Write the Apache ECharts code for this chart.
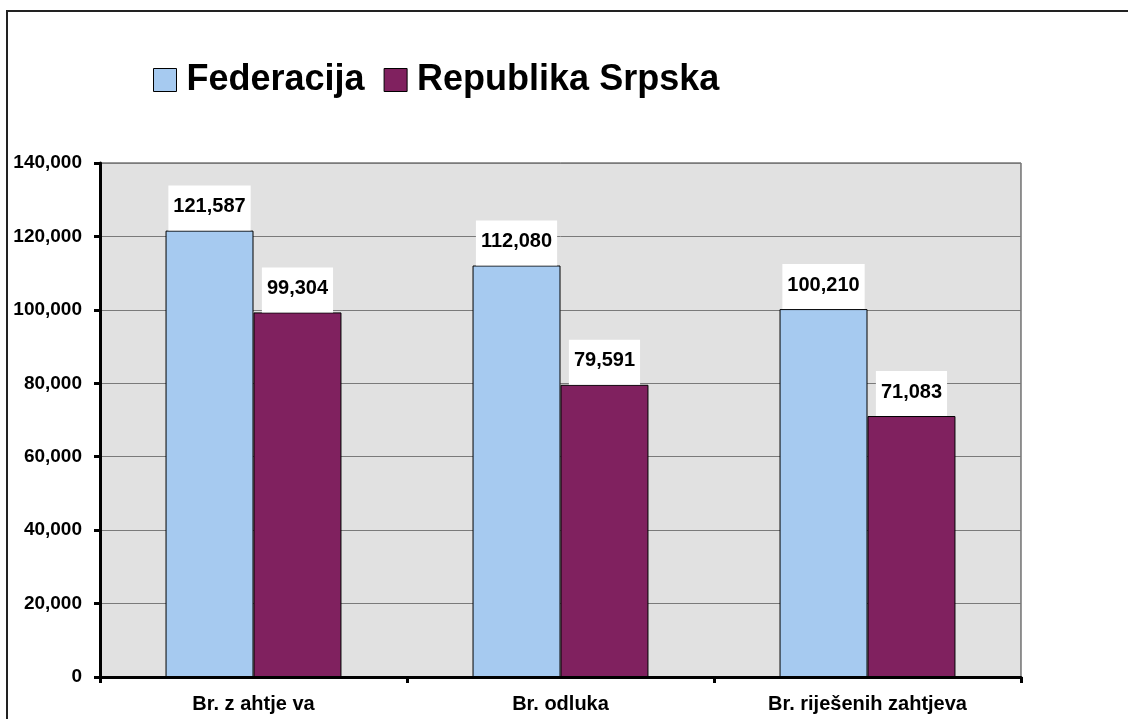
<!DOCTYPE html>
<html>
<head>
<meta charset="utf-8">
<script src="https://cdn.jsdelivr.net/npm/echarts@6/dist/echarts.min.js"></script>
<style>
html,body{margin:0;padding:0;background:#fff;}
#chart{width:1128px;height:719px;}
</style>
</head>
<body>
<div id="chart"></div>
<script>
const categories = ['Br. z ahtje va', 'Br. odluka', 'Br. riješenih zahtjeva'];
const federacija = [121587, 112080, 100210];
const republikaSrpska = [99304, 79591, 71083];
const seriesNames = ['Federacija', 'Republika Srpska'];

const chart = echarts.init(document.getElementById('chart'));
const font = 'Arial, "Liberation Sans", sans-serif';
const labelCfg = {
  show: true,
  position: 'top',
  distance: 0,
  backgroundColor: '#ffffff',
  padding: [11, 5, 14, 5],
  color: '#000',
  fontWeight: 'bold',
  fontSize: 20,
  fontFamily: font,
  formatter: p => p.value.toLocaleString('en-US')
};
chart.setOption({
  animation: false,
  backgroundColor: '#ffffff',
  graphic: [{
    type: 'rect',
    shape: {x: 7, y: 11, width: 1200, height: 800},
    style: {fill: 'none', stroke: '#222', lineWidth: 2},
    silent: true,
    z: 100
  }],
  legend: {
    left: 148,
    top: 57,
    itemWidth: 23,
    itemHeight: 23,
    itemGap: 19,
    icon: 'rect',
    textStyle: {fontSize: 36, fontWeight: 'bold', fontFamily: font, color: '#000', padding: [0, 0, 0, 5]},
    itemStyle: {borderColor: '#000', borderWidth: 1}
  },
  grid: {
    left: 100, right: 107, top: 163, bottom: 42,
    show: true, backgroundColor: '#E1E1E1', borderColor: '#333', borderWidth: 1
  },
  xAxis: {
    type: 'category',
    data: categories,
    axisLine: {lineStyle: {color: '#000', width: 3}},
    axisTick: {show: true, length: 6, lineStyle: {color: '#000', width: 3}},
    axisLabel: {color: '#000', fontWeight: 'bold', fontSize: 20, fontFamily: font, margin: 17}
  },
  yAxis: {
    type: 'value',
    min: 0, max: 140000, interval: 20000,
    axisLine: {show: true, lineStyle: {color: '#000', width: 3}},
    axisTick: {show: true, length: 6, lineStyle: {color: '#000', width: 3}},
    splitLine: {lineStyle: {color: '#7a7a7a', width: 1}},
    axisLabel: {color: '#000', fontWeight: 'bold', fontSize: 19, fontFamily: font, margin: 18,
      formatter: v => v.toLocaleString('en-US')}
  },
  series: [
    {
      name: seriesNames[0], type: 'bar', data: federacija,
      barGap: '0%', barCategoryGap: '42.7%',
      itemStyle: {color: '#A6CAF0', borderColor: '#000', borderWidth: 1},
      label: labelCfg
    },
    {
      name: seriesNames[1], type: 'bar', data: republikaSrpska,
      itemStyle: {color: '#80215F', borderColor: '#000', borderWidth: 1},
      label: labelCfg
    }
  ]
});
</script>
</body>
</html>
